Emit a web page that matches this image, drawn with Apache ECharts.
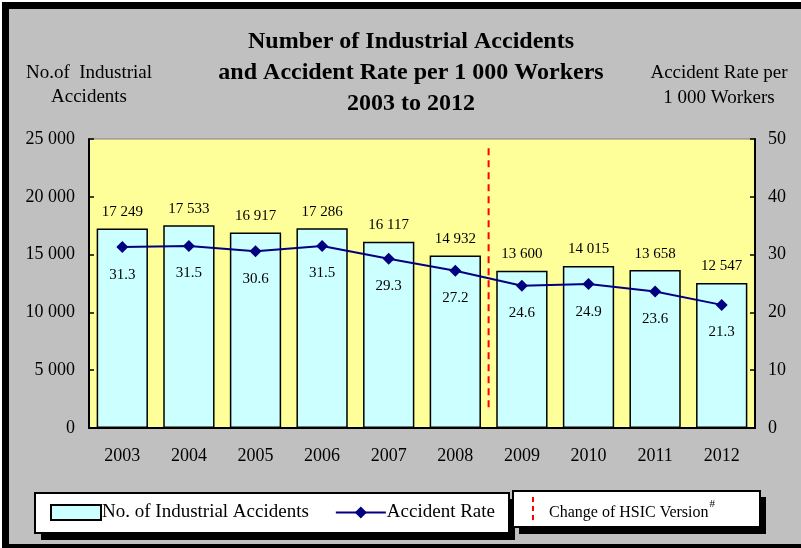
<!DOCTYPE html>
<html><head><meta charset="utf-8">
<script src="https://cdn.jsdelivr.net/npm/echarts@6/dist/echarts.min.js"></script>
<style>html,body{margin:0;padding:0;background:#C0C0C0;overflow:hidden}#c{width:801px;height:548px}</style>
</head><body><div id="c"></div>
<script>
var years = ['2003','2004','2005','2006','2007','2008','2009','2010','2011','2012'];
var accidents = [17249, 17533, 16917, 17286, 16117, 14932, 13600, 14015, 13658, 12547];
var rates = [31.3, 31.5, 30.6, 31.5, 29.3, 27.2, 24.6, 24.9, 23.6, 21.3];
var leftTicks = [0, 25000, 5000];
var rightTicks = [0, 50, 10];
var changeAt = 6; // boundary between 2008 and 2009
var changeSpan = [1800, 24300];

var F = '"Liberation Serif","Times New Roman",serif';
function sp(n){ return String(n).replace(/\B(?=(\d{3})+(?!\d))/g, ' '); }

var chart = echarts.init(document.getElementById('c'));
chart.setOption({
  backgroundColor: '#C0C0C0',
  animation: false,
  title: {
    text: 'Number of Industrial Accidents\nand Accident Rate per 1 000 Workers\n2003 to 2012',
    left: 406, top: 21, textAlign: 'center',
    textStyle: { fontFamily: F, fontWeight: 'bold', fontSize: 24, lineHeight: 31, color: '#000' }
  },
  grid: { left: 89, right: 46, top: 139, bottom: 120, show: true,
          backgroundColor: '#FFFF99', borderColor: '#808080', borderWidth: 1 },
  legend: {
    left: 50, top: 503, padding: 0, itemWidth: 50, itemHeight: 15, itemGap: 26,
    data: [{ name: 'No. of Industrial Accidents', icon: 'rect' }, { name: 'Accident Rate' }],
    textStyle: { fontFamily: F, fontSize: 19, color: '#000', padding: [0,0,0,-4] }
  },
  xAxis: [{
    type: 'category', data: years,
    axisLine: { lineStyle: { color: '#000', width: 2 } },
    axisTick: { inside: true, length: 5, lineStyle: { color: '#000', width: 1.5 } },
    axisLabel: { fontFamily: F, fontSize: 18, color: '#000', margin: 19 }
  }, {
    type: 'value', min: 0, max: years.length, show: false
  }],
  yAxis: [{
    type: 'value', min: leftTicks[0], max: leftTicks[1], interval: leftTicks[2],
    axisLine: { show: true, lineStyle: { color: '#000', width: 2 } },
    axisTick: { show: true, inside: true, length: 5, lineStyle: { color: '#000', width: 1.5 } },
    splitLine: { show: false },
    axisLabel: { fontFamily: F, fontSize: 18, color: '#000', margin: 14, formatter: function(v){ return sp(v); } }
  }, {
    type: 'value', min: rightTicks[0], max: rightTicks[1], interval: rightTicks[2], position: 'right',
    axisLine: { show: true, lineStyle: { color: '#000', width: 2 } },
    axisTick: { show: true, inside: true, length: 5, lineStyle: { color: '#000', width: 1.5 } },
    splitLine: { show: false },
    axisLabel: { fontFamily: F, fontSize: 18, color: '#000', margin: 13 }
  }],
  series: [{
    name: 'No. of Industrial Accidents', type: 'bar', data: accidents, barCategoryGap: '23%',
    itemStyle: { color: '#CCFFFF', borderColor: '#000', borderWidth: 1.5 },
    label: { show: true, position: 'top', distance: 9, fontFamily: F, fontSize: 15, color: '#000',
             formatter: function(p){ return sp(p.value); } }
  }, {
    name: 'Accident Rate', type: 'line', yAxisIndex: 1, data: rates,
    symbol: 'diamond', symbolSize: 12,
    lineStyle: { color: '#000080', width: 2 }, itemStyle: { color: '#000080' },
    label: { show: true, position: 'bottom', distance: 14, fontFamily: F, fontSize: 15, color: '#000',
             formatter: function(p){ return p.value.toFixed(1); } }
  }, {
    name: 'change', type: 'line', xAxisIndex: 1, yAxisIndex: 0, symbol: 'none', silent: true,
    data: [[changeAt, changeSpan[0]], [changeAt, changeSpan[1]]],
    lineStyle: { color: '#FF0000', width: 2, type: [7, 5] }, z: 1
  }],
  graphic: [
    { type: 'rect', z: -20, shape: { x: 0, y: 0, width: 801, height: 2 }, style: { fill: '#fff' } },
    { type: 'rect', z: -20, shape: { x: 0, y: 0, width: 2, height: 548 }, style: { fill: '#fff' } },
    { type: 'rect', z: -19, shape: { x: 2, y: 2, width: 799, height: 7 }, style: { fill: '#000' } },
    { type: 'rect', z: -19, shape: { x: 2, y: 2, width: 7, height: 546 }, style: { fill: '#000' } },
    { type: 'rect', z: -19, shape: { x: 2, y: 544, width: 799, height: 4 }, style: { fill: '#000' } },
    { type: 'text', z: -1, x: 89, y: 61, style: { text: 'No.of  Industrial\nAccidents', font: '19px ' + F, lineHeight: 24, fill: '#000', textAlign: 'center' } },
    { type: 'text', z: -1, x: 719, y: 61, style: { text: 'Accident Rate per\n1 000 Workers', font: '19px ' + F, lineHeight: 25, fill: '#000', textAlign: 'center' } },
    { type: 'rect', z: -12, shape: { x: 41, y: 499, width: 474, height: 41 }, style: { fill: '#000' } },
    { type: 'rect', z: -11, shape: { x: 35, y: 493, width: 474, height: 40 }, style: { fill: '#fff', stroke: '#000', lineWidth: 2 } },
    { type: 'rect', z: -10, shape: { x: 519, y: 497, width: 247, height: 37 }, style: { fill: '#000' } },
    { type: 'rect', z: -9, shape: { x: 513, y: 491, width: 247, height: 36 }, style: { fill: '#fff', stroke: '#000', lineWidth: 2 } },
    { type: 'line', z: -8, shape: { x1: 533, y1: 497, x2: 533, y2: 523 }, style: { stroke: '#FF0000', lineWidth: 2, lineDash: [5, 4] } },
    { type: 'text', z: -8, x: 549, y: 499, style: { text: '{a|Change of HSIC Version}{s|#}', font: '16px ' + F, fill: '#000',
        rich: { a: { fontFamily: F, fontSize: 16, color: '#000', padding: [6,0,0,0] }, s: { fontFamily: F, fontSize: 11, color: '#000', verticalAlign: 'top', padding: [0,0,0,1] } } } }
  ]
});
</script></body></html>
